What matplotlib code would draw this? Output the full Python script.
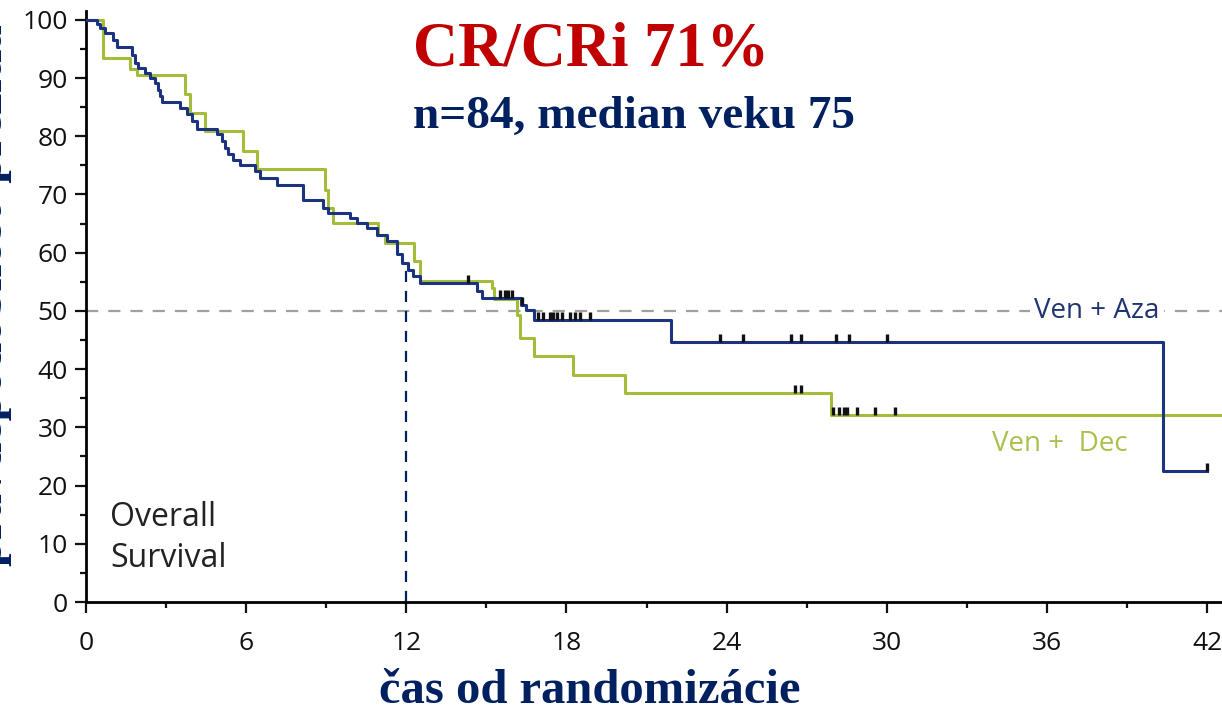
import numpy as np
import matplotlib.pyplot as plt
from matplotlib.path import Path

# Ven + Aza : step times (months) and survival (%) after each step
aza_t = [0, 0.40, 0.52, 0.71, 1.02, 1.15, 1.71, 1.84, 1.96, 2.21, 2.40, 2.59, 2.71,
         2.77, 2.84, 3.52, 3.77, 3.96, 4.15, 4.90, 5.08, 5.21, 5.33, 5.52, 5.77,
         6.33, 6.52, 7.14, 8.14, 8.89, 9.08, 9.89, 10.14, 10.52, 10.89, 11.27,
         11.64, 11.83, 12.08, 12.25, 12.51, 14.65, 14.85, 16.30, 16.50, 16.80,
         21.90, 40.35]
aza_s = [100, 99.3, 98.6, 97.8, 96.6, 95.3, 94.0, 92.6, 91.8, 90.9, 90.0, 89.2, 88.0,
         86.9, 85.9, 84.9, 83.8, 82.6, 81.3, 80.3, 79.2, 78.0, 76.9, 76.0, 75.1,
         74.0, 72.9, 71.7, 69.1, 67.7, 66.8, 66.0, 65.1, 64.3, 63.1, 62.0,
         59.7, 58.2, 57.1, 56.0, 54.8, 53.4, 52.2, 51.0, 50.2, 48.5,
         44.7, 22.5]
aza_end = 42.0
aza_cens = [14.3, 15.51, 15.70, 15.82, 15.95, 16.32,
            16.93, 17.12, 17.38, 17.50, 17.65, 17.83, 18.13, 18.32, 18.51, 18.88,
            23.75, 24.60, 26.40, 26.80, 28.10, 28.60, 30.0, 42.0]

# Ven + Dec
dec_t = [0, 0.65, 1.65, 1.90, 3.71, 3.90, 4.46, 5.90, 6.40, 8.95, 9.08, 9.27,
         10.95, 11.20, 12.30, 12.50, 15.20, 15.30, 16.15, 16.25, 16.80, 18.25,
         20.20, 27.90]
dec_s = [100, 93.5, 91.5, 90.6, 87.2, 84.0, 80.9, 77.4, 74.3, 70.8, 67.7, 65.1,
         63.1, 61.7, 58.5, 55.2, 54.0, 52.0, 49.3, 45.4, 42.2, 39.0,
         35.9, 32.1]
dec_end = 42.6
dec_cens = [26.55, 26.80, 28.0, 28.2, 28.4, 28.5, 28.9, 29.56, 30.3]

median_month = 12
x_ticks = [0, 6, 12, 18, 24, 30, 36, 42]
y_ticks = list(range(0, 101, 10))

navy = '#002060'
blue = '#1c3380'
green = '#a3bd3b'


def surv_at(t, s, x):
    idx = np.searchsorted(t, x, side='right') - 1
    return np.asarray(s)[idx]


fig = plt.figure(figsize=(12.22, 7.10), dpi=100)
ax = fig.add_axes([86 / 1222, 108 / 710, 1136 / 1222, 602 / 710])

ax.step(aza_t + [aza_end], aza_s + [aza_s[-1]], where='post', color=blue, lw=2.2, zorder=4)
ax.step(dec_t + [dec_end], dec_s + [dec_s[-1]], where='post', color=green, lw=2.2, zorder=3)

tick_up = Path([(0, 0), (0, 1)], [Path.MOVETO, Path.LINETO])
ax.plot(aza_cens, surv_at(aza_t, aza_s, aza_cens), ls='none', marker=tick_up,
        ms=12, mew=2.4, mec='#111111', zorder=5)
ax.plot(dec_cens, surv_at(dec_t, dec_s, dec_cens), ls='none', marker=tick_up,
        ms=12, mew=2.4, mec='#111111', zorder=5)

# 50 % reference and median marker
ax.axhline(50, color='#a0a0a0', lw=1.6, dashes=(5.5, 4.5), zorder=2)
ax.plot([median_month, median_month], [0, surv_at(aza_t, aza_s, median_month)],
        color=navy, lw=1.6, dashes=(5, 4), zorder=2)

ax.set_xlim(0, 42.56)
ax.set_ylim(0, 103.4)
ax.set_xticks(x_ticks)
ax.set_xticks(np.arange(3, 42, 6), minor=True)
ax.set_yticks(y_ticks)
ax.set_yticks(np.arange(5, 100, 10), minor=True)
ax.tick_params(which='major', length=8, width=1.6, colors='#111111',
               labelsize=19, labelcolor='#111111')
ax.tick_params(which='minor', length=4, width=1.6, colors='#111111')
ax.tick_params(axis='y', pad=5)
ax.tick_params(axis='x', pad=13)
for lab in ax.get_xticklabels() + ax.get_yticklabels():
    lab.set_family('Open Sans')

for side in ['top', 'right']:
    ax.spines[side].set_visible(False)
ax.spines['left'].set_linewidth(2)
ax.spines['bottom'].set_linewidth(2)
ax.spines['left'].set_bounds(0, 101.5)

ax.text(0.9, 11.0, 'Overall\nSurvival', fontsize=23, family='Open Sans',
        color='#222222', ha='left', va='center', linespacing=1.3)
ax.text(37.88, 50, 'Ven + Aza', fontsize=20, family='Open Sans', color='#1f3470',
        ha='center', va='center', zorder=6,
        bbox=dict(facecolor='white', edgecolor='none', pad=3))
ax.text(36.5, 27.1, 'Ven +  Dec', fontsize=20, family='Open Sans', color='#a8c14a',
        ha='center', va='center')

fig.text(413 / 1222, (710 - 65) / 710, 'CR/CRi 71%', fontsize=45, family='Liberation Serif',
         weight='bold', color='#c00000', ha='left', va='baseline')
fig.text(413 / 1222, (710 - 128) / 710, 'n=84, median veku 75', fontsize=34,
         family='Liberation Serif', weight='bold', color=navy, ha='left', va='baseline')
fig.text(590 / 1222, 7 / 710, 'čas od randomizácie', fontsize=35,
         family='Liberation Serif', weight='bold', color=navy, ha='center', va='baseline')
fig.text(12 / 1222, (710 - 566) / 710, 'pravdepodobnosť prežitia', fontsize=35,
         family='Liberation Serif', weight='bold', color=navy, rotation=90,
         ha='right', va='bottom')

fig.savefig('out.png', dpi=100)
